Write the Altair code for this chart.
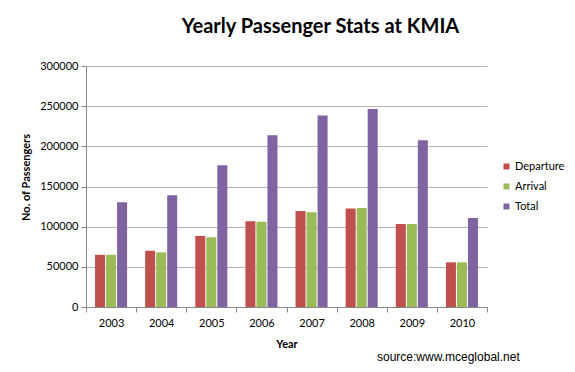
import altair as alt
import pandas as pd

years = ["2003", "2004", "2005", "2006", "2007", "2008", "2009", "2010"]
departure = [65000, 70000, 88500, 106800, 119500, 122500, 103300, 55600]
arrival = [65000, 68000, 86800, 106000, 117800, 123200, 103300, 55600]
total = [130500, 139000, 176500, 213700, 238300, 246500, 207500, 110800]
series = ["Departure", "Arrival", "Total"]
colors = ["#C0504D", "#9BBB59", "#8064A2"]
y_ticks = [0, 50000, 100000, 150000, 200000, 250000, 300000]

rows = []
for i, yr in enumerate(years):
    for s, vals in zip(series, [departure, arrival, total]):
        rows.append({"Year": yr, "Series": s, "Value": vals[i]})
df = pd.DataFrame(rows)

FONT = "Lato"

bars = alt.Chart(df).mark_bar().encode(
    x=alt.X("Year:N", sort=years,
            scale=alt.Scale(paddingInner=0, paddingOuter=0),
            axis=alt.Axis(title="Year", labelAngle=0, tickBand="extent",
                          labelFontSize=11, labelPadding=5, tickSize=5,
                          titleFontSize=11, titleFontWeight="bold", titlePadding=10,
                          grid=False)),
    xOffset=alt.XOffset("Series:N", sort=series,
                        scale=alt.Scale(paddingInner=0.09, paddingOuter=0.82)),
    y=alt.Y("Value:Q",
            scale=alt.Scale(domain=[0, 300000], nice=False),
            axis=alt.Axis(title="No. of Passengers", values=y_ticks, format="d",
                          labelFontSize=11, labelPadding=3, tickSize=5,
                          titleFontSize=11, titleFontWeight="bold",
                          titleY=111, titlePadding=8)),
    color=alt.Color("Series:N", sort=series,
                    scale=alt.Scale(domain=series, range=colors),
                    legend=alt.Legend(title=None, orient="none", legendX=415, legendY=95,
                                      symbolType="square", symbolSize=36,
                                      symbolStrokeWidth=0, labelFontSize=11,
                                      labelOffset=3, rowPadding=8, padding=0)),
)

src = alt.Chart(pd.DataFrame({"t": ["source:www.mceglobal.net"]})).mark_text(
    align="left", baseline="middle", font="Liberation Sans", fontSize=12, color="#000000"
).encode(x=alt.value(291), y=alt.value(291), text="t:N")

chart = alt.layer(bars, src).properties(
    width=401, height=241,
    autosize=alt.AutoSizeParams(type="none"),
    padding={"left": 78, "top": 58, "right": 80, "bottom": 57},
    title=alt.TitleParams("Yearly Passenger Stats at KMIA", fontSize=20, font=FONT,
                          fontWeight="bold", anchor="middle", dx=34, offset=23,
                          color="#000000"),
).configure(font=FONT).configure_axis(
    domainColor="#888888", tickColor="#888888", gridColor="#b3b3b3",
    labelColor="#000000", titleColor="#000000", labelFont=FONT, titleFont=FONT,
).configure_legend(labelFont=FONT, labelColor="#000000").configure_view(stroke=None)

chart.save("out.html", embed_options={"renderer": "svg", "actions": False})
